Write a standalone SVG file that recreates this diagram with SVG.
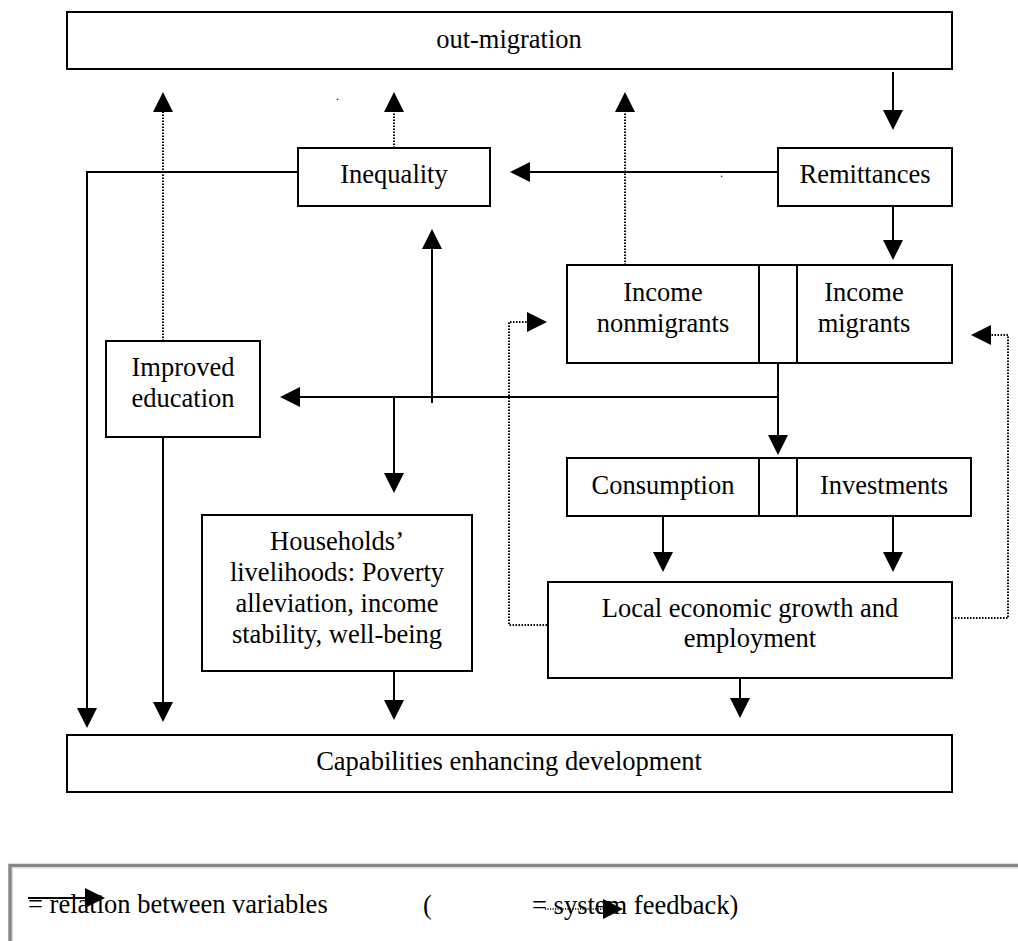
<svg xmlns="http://www.w3.org/2000/svg" width="1018" height="941" viewBox="0 0 1018 941">
<defs>
<style>
.box{fill:#fff;stroke:#000;stroke-width:2}
.t{font-family:"Liberation Serif","Times New Roman",serif;font-size:26.5px;fill:#000;text-anchor:middle}
.tl{font-family:"Liberation Serif","Times New Roman",serif;font-size:26.5px;fill:#000}
.c{fill:none;stroke:#000;stroke-width:2}
.d{fill:none;stroke:#000;stroke-width:2;stroke-dasharray:1.5 1.5}
.ah{marker-end:url(#arr)}
</style>
<marker id="arr" viewBox="0 0 20 20" refX="0" refY="10" markerWidth="20" markerHeight="20" markerUnits="userSpaceOnUse" orient="auto">
<path d="M0,0 L20,10 L0,20 z" fill="#000"/>
</marker>
</defs>
<rect width="1018" height="941" fill="#fff"/>

<g id="connectors">
<path class="d ah" d="M163,341 V112"/>
<path class="d ah" d="M394,148 V112"/>
<path class="d ah" d="M625,265 V112"/>
<path class="c ah" d="M893,72 V110"/>
<path class="c ah" d="M778,172 H530"/>
<path class="c ah" d="M298,172 H87 V708"/>
<path class="c ah" d="M893,206 V240"/>
<path class="c ah" d="M778,363 V435"/>
<path class="c ah" d="M778,397 H300"/>
<path class="c ah" d="M432,403 V249"/>
<path class="c ah" d="M394,397 V473"/>
<path class="c ah" d="M163,437 V702"/>
<path class="c ah" d="M394,671 V700"/>
<path class="c ah" d="M663,516 V552"/>
<path class="c ah" d="M893,516 V552"/>
<path class="c ah" d="M740,678 V698"/>
<path class="d ah" d="M547,625 H509 V322 H527"/>
<path class="d ah" d="M952,618 H1008 V335 H991"/>
</g>

<g id="out-migration">
<rect class="box" x="67" y="12" width="885" height="57"/>
<text class="t" x="509" y="48">out-migration</text>
</g>
<g id="inequality">
<rect class="box" x="298" y="148" width="192" height="58"/>
<text class="t" x="394" y="183">Inequality</text>
</g>
<g id="remittances">
<rect class="box" x="778" y="148" width="174" height="58"/>
<text class="t" x="865" y="183">Remittances</text>
</g>
<g id="income">
<rect class="box" x="567" y="265" width="192" height="98"/>
<rect class="box" x="759" y="265" width="38" height="98"/>
<rect class="box" x="797" y="265" width="155" height="98"/>
<text class="t" x="663" y="301">Income</text>
<text class="t" x="663" y="332">nonmigrants</text>
<text class="t" x="864" y="301">Income</text>
<text class="t" x="864" y="332">migrants</text>
</g>
<g id="improved-education">
<rect class="box" x="106" y="341" width="154" height="96"/>
<text class="t" x="183" y="376">Improved</text>
<text class="t" x="183" y="407">education</text>
</g>
<g id="consumption-investments">
<rect class="box" x="567" y="458" width="192" height="58"/>
<rect class="box" x="759" y="458" width="38" height="58"/>
<rect class="box" x="797" y="458" width="174" height="58"/>
<text class="t" x="663" y="494">Consumption</text>
<text class="t" x="884" y="494">Investments</text>
</g>
<g id="households">
<rect class="box" x="202" y="515" width="270" height="156"/>
<text class="t" x="337" y="550">Households’</text>
<text class="t" x="337" y="581">livelihoods: Poverty</text>
<text class="t" x="337" y="612">alleviation, income</text>
<text class="t" x="337" y="643">stability, well-being</text>
</g>
<g id="local-growth">
<rect class="box" x="548" y="582" width="404" height="96"/>
<text class="t" x="750" y="617">Local economic growth and</text>
<text class="t" x="750" y="647">employment</text>
</g>
<g id="capabilities">
<rect class="box" x="67" y="735" width="885" height="57"/>
<text class="t" x="509" y="770">Capabilities enhancing development</text>
</g>

<g id="stray-dots">
<text class="tl" x="336" y="100" style="font-size:12px">.</text>
<text class="tl" x="720" y="177" style="font-size:12px">.</text>
</g>

<g id="legend">
<rect x="10" y="865.5" width="1020" height="100" fill="none" stroke="#888" stroke-width="3.5"/>
<rect x="12.5" y="868" width="1020" height="100" fill="none" stroke="#d8d8d8" stroke-width="1"/>
<text class="tl" x="28" y="913">= relation between variables</text>
<path class="c ah" d="M28,898 H85"/>
<text class="tl" x="423" y="914">(</text>
<text class="tl" x="532" y="914">= system feedback)</text>
<path class="ah" d="M545,909 H603" fill="none" stroke="#000" stroke-width="1.5" stroke-dasharray="1.2 1.3"/>
</g>
</svg>
